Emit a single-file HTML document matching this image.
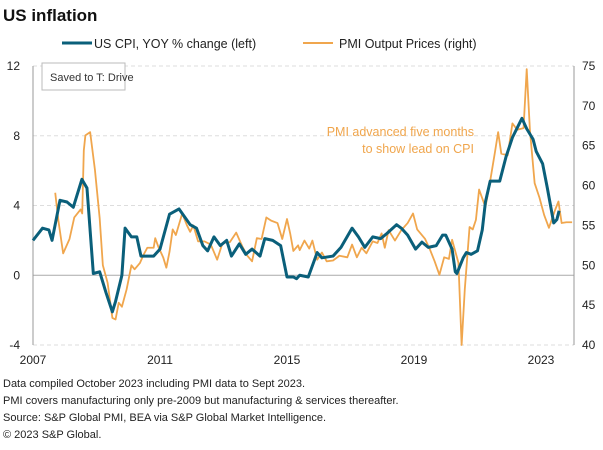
<!DOCTYPE html>
<html><head><meta charset="utf-8"><style>
body{margin:0;background:#fff;font-family:"Liberation Sans",sans-serif;}
svg text{font-family:"Liberation Sans",sans-serif;}
</style></head><body>
<svg width="603" height="445">
<text x="3" y="21" font-size="17" font-weight="bold" fill="#111">US inflation</text>
<g>
<line x1="62" y1="43" x2="92" y2="43" stroke="#0a5f7a" stroke-width="3"/>
<text x="94" y="48" font-size="12.5" fill="#222">US CPI, YOY % change (left)</text>
<line x1="303" y1="43" x2="333" y2="43" stroke="#f0a64d" stroke-width="2"/>
<text x="339" y="48" font-size="12.5" fill="#222">PMI Output Prices (right)</text>
</g>
<g id="grid"></g>
<g id="marks"></g>
<rect x="42" y="63" width="83" height="27" fill="#fff" stroke="#bbb"/>
<text x="50" y="81" font-size="11" fill="#333">Saved to T: Drive</text>
<text x="474" y="136" font-size="12.5" fill="#f0a64d" text-anchor="end">PMI advanced five months</text>
<text x="474" y="153" font-size="12.5" fill="#f0a64d" text-anchor="end">to show lead on CPI</text>
<g font-size="11" fill="#222">
<text x="3" y="387">Data compiled October 2023 including PMI data to Sept 2023.</text>
<text x="3" y="404">PMI covers manufacturing only pre-2009 but manufacturing &amp; services thereafter.</text>
<text x="3" y="421">Source: S&amp;P Global PMI, BEA via S&amp;P Global Market Intelligence.</text>
<text x="3" y="438">© 2023 S&amp;P Global.</text>
</g>
</svg>
<script>
const leftTicks=[12,8,4,0,-4];
const rightTicks=[75,70,65,60,55,50,45,40];
const xTicks=[2007,2011,2015,2019,2023];
const cpiYears=[2007.0,2007.3,2007.5,2007.6,2007.85,2008.07,2008.27,2008.54,2008.7,2008.9,2009.1,2009.3,2009.5,2009.6,2009.8,2009.9,2010.1,2010.27,2010.4,2010.8,2011.0,2011.3,2011.6,2011.95,2012.15,2012.35,2012.5,2012.7,2012.9,2013.1,2013.25,2013.5,2013.7,2013.9,2014.15,2014.3,2014.55,2014.8,2014.9,2015.0,2015.2,2015.3,2015.4,2015.67,2015.95,2016.1,2016.45,2016.7,2017.05,2017.25,2017.45,2017.7,2017.95,2018.15,2018.45,2018.6,2018.8,2019.05,2019.25,2019.45,2019.7,2019.9,2020.0,2020.2,2020.3,2020.35,2020.55,2020.65,2020.8,2021.0,2021.15,2021.25,2021.4,2021.5,2021.7,2021.9,2022.1,2022.4,2022.55,2022.75,2022.85,2023.05,2023.2,2023.4,2023.5,2023.57];
const cpiValues=[2.0,2.7,2.6,2.0,4.3,4.2,3.9,5.5,5.0,0.1,0.2,-1.0,-2.1,-1.5,0.0,2.7,2.2,2.2,1.1,1.1,1.5,3.5,3.8,2.9,2.7,1.7,1.4,2.2,1.7,2.0,1.1,1.8,1.2,1.5,1.1,2.1,2.0,1.7,0.8,-0.1,-0.1,-0.2,0.0,-0.1,1.3,1.0,1.1,1.6,2.7,2.2,1.6,2.2,2.1,2.4,2.9,2.7,2.3,1.5,1.9,1.6,1.7,2.3,2.3,1.5,0.2,0.1,1.0,1.3,1.2,1.4,2.6,4.2,5.4,5.4,5.4,6.8,7.9,9.0,8.4,7.8,7.1,6.4,5.0,3.0,3.2,3.7];
const pmiYears=[2007.7,2007.8,2007.95,2008.15,2008.3,2008.5,2008.55,2008.6,2008.65,2008.8,2008.95,2009.1,2009.2,2009.35,2009.5,2009.6,2009.7,2009.8,2009.95,2010.1,2010.2,2010.37,2010.48,2010.6,2010.8,2010.85,2010.95,2011.1,2011.2,2011.3,2011.4,2011.5,2011.7,2011.85,2011.95,2012.05,2012.2,2012.4,2012.6,2012.8,2012.97,2013.2,2013.4,2013.6,2013.75,2013.9,2014.05,2014.2,2014.35,2014.5,2014.7,2014.85,2015.0,2015.1,2015.2,2015.35,2015.4,2015.55,2015.7,2015.8,2015.95,2016.1,2016.25,2016.45,2016.65,2016.9,2017.05,2017.2,2017.35,2017.5,2017.7,2017.85,2017.98,2018.08,2018.2,2018.4,2018.6,2018.8,2018.97,2019.1,2019.35,2019.5,2019.65,2019.8,2019.95,2020.1,2020.2,2020.4,2020.5,2020.6,2020.75,2020.85,2020.95,2021.05,2021.25,2021.4,2021.55,2021.65,2021.75,2021.95,2022.1,2022.25,2022.45,2022.55,2022.65,2022.8,2022.95,2023.1,2023.25,2023.45,2023.55,2023.65,2023.8,2023.98];
const pmiValues=[59.1,55.6,51.5,53.3,56.0,57.0,56.5,64.4,66.3,66.7,62.0,55.9,50.0,47.8,43.4,43.2,45.3,44.8,47.0,50.0,49.5,50.3,51.3,52.2,52.2,53.4,52.3,51.0,49.7,51.7,54.5,53.8,56.5,55.0,54.2,55.0,53.0,53.0,52.6,50.7,52.8,52.9,54.1,52.3,51.2,50.5,53.4,53.3,56.0,55.6,55.3,53.3,55.8,54.0,51.8,52.5,51.9,53.1,52.1,53.1,50.7,51.6,50.5,50.6,51.2,51.0,52.6,51.0,52.2,51.5,53.0,52.8,54.0,52.2,54.4,53.1,54.4,55.3,56.5,54.5,53.3,52.0,50.5,48.8,51.0,50.8,53.2,50.3,40.0,47.0,54.8,54.5,55.7,59.5,57.3,60.6,64.2,66.7,64.0,63.8,67.8,67.0,67.2,74.6,67.0,60.3,58.5,56.3,54.7,57.0,58.0,55.3,55.4,55.4];
const NS="http://www.w3.org/2000/svg";
const X0=33,X1=574,Y0=66,Y1=345;
function xs(yr){return X0+(yr-2007)*31.75;}
function yl(v){return Y1-(v+4)/16*(Y1-Y0);}
function yr(v){return Y1-(v-40)/35*(Y1-Y0);}
function mk(tag,attrs,parent){const e=document.createElementNS(NS,tag);for(const k in attrs)e.setAttribute(k,attrs[k]);parent.appendChild(e);return e;}
const grid=document.getElementById('grid'),marks=document.getElementById('marks');
leftTicks.forEach(t=>{
 const l=mk('line',{x1:X0,x2:X1,y1:yl(t),y2:yl(t),stroke:t===0?'#aaa':'#ddd','stroke-dasharray':t===0?'':'4,3'},grid);
 
 
 const tx=mk('text',{x:20,y:yl(t)+4,'font-size':12,fill:'#222','text-anchor':'end'},grid);tx.textContent=t;
 
 
});
rightTicks.forEach(t=>{
 const tx=mk('text',{x:582,y:yr(t)+4,'font-size':12,fill:'#222'},grid);tx.textContent=t;
 
 
});
xTicks.forEach(t=>{
 const tx=mk('text',{x:xs(t),y:364,'font-size':12,fill:'#222','text-anchor':'middle'},grid);tx.textContent=t;
 
 
});
const la=mk('line',{x1:X0,x2:X0,y1:Y0,y2:Y1,stroke:'#999'},grid);


const ra=mk('line',{x1:X1,x2:X1,y1:Y0,y2:Y1,stroke:'#999'},grid);


const pp=mk('polyline',{points:pmiYears.map((y,i)=>xs(y)+','+yr(pmiValues[i])).join(' '),fill:'none',stroke:'#f0a64d','stroke-width':1.8,'stroke-linejoin':'round'},marks);


const cp=mk('polyline',{points:cpiYears.map((y,i)=>xs(y)+','+yl(cpiValues[i])).join(' '),fill:'none',stroke:'#0a5f7a','stroke-width':3,'stroke-linejoin':'round'},marks);


</script>
</body></html>
